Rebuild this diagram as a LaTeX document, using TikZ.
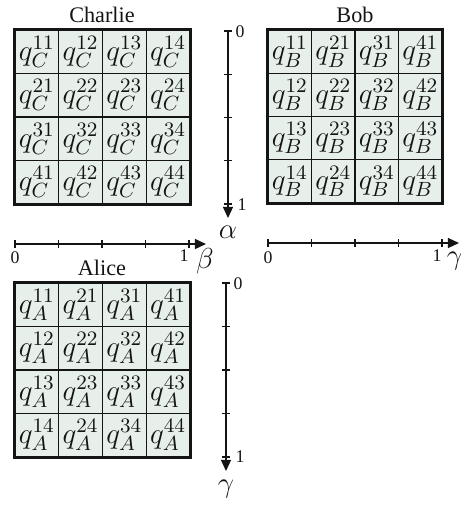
\documentclass[tikz,border=0pt]{standalone}
\usepackage{fix-cm}
\usepackage[no-math]{fontspec}
\setmainfont{Liberation Serif}
\usetikzlibrary{arrows.meta}
\definecolor{cellfill}{RGB}{230,239,234}
\definecolor{ink}{RGB}{20,20,20}
\tikzset{
  cell/.style={draw=ink, line width=0.5pt, fill=cellfill, minimum width=19.6pt, minimum height=19.6pt, inner sep=0pt, font=\fontsize{13.2}{15}\selectfont, text=ink},
  frame/.style={draw=ink, line width=1.1pt},
  axis/.style={draw=ink, line width=0.7pt, -{Triangle[length=5pt,width=4.5pt]}},
  tick/.style={draw=ink, line width=0.6pt},
  ticklab/.style={font=\footnotesize, inner sep=1pt, text=ink},
  axlab/.style={font=\fontsize{13}{15}\selectfont, inner sep=0pt, text=ink},
  title/.style={font=\normalsize, inner sep=0pt, text=ink}
}
\begin{document}
\begin{tikzpicture}[x=0.45pt, y=-0.45pt]
\useasboundingbox (0,0) rectangle (461,505);
% ---------- Charlie ----------
\node[title] (tC) at (102,15) {Charlie};
\foreach \i in {1,...,4}{
  \foreach \j in {1,...,4}{
    \node[cell] (C\i\j) at ({15+43.75*(\j-0.5)},{30+43.5*(\i-0.5)}) {$q_C^{\i\j}$};
  }
}
\draw[frame] (C11.north west) rectangle (C44.south east);
% ---------- Bob ----------
\node[title] (tB) at (355,15) {Bob};
\foreach \i in {1,...,4}{
  \foreach \j in {1,...,4}{
    \node[cell] (B\i\j) at ({268+43.5*(\j-0.5)},{30+43.25*(\i-0.5)}) {$q_B^{\j\i}$};
  }
}
\draw[frame] (B11.north west) rectangle (B44.south east);
% ---------- Alice ----------
\node[title] (tA) at (102,268) {Alice};
\foreach \i in {1,...,4}{
  \foreach \j in {1,...,4}{
    \node[cell] (A\i\j) at ({15+43.75*(\j-0.5)},{283+43.5*(\i-0.5)}) {$q_A^{\j\i}$};
  }
}
\draw[frame] (A11.north west) rectangle (A44.south east);
% ---------- alpha axis (vertical) ----------
\coordinate (a0) at (228,31);
\coordinate (aE) at (228,218);
\draw[axis] (a0) -- (aE);
\foreach \k in {0,...,4}{
  \draw[tick] (224,{31+43.25*\k}) -- (232,{31+43.25*\k});
}
\node[ticklab, anchor=west] (a0l) at (233,32) {0};
\node[ticklab, anchor=west] (a1l) at (235,205) {1};
\node[axlab] (alpha) at (228,232) {$\alpha$};
% ---------- beta axis (horizontal) ----------
\coordinate (b0) at (15,244);
\coordinate (bE) at (206,244);
\draw[axis] (b0) -- (bE);
\foreach \k in {0,...,4}{
  \draw[tick] ({15+43.5*\k},240) -- ({15+43.5*\k},248);
}
\node[ticklab] (b0l) at (15,258) {0};
\node[ticklab] (b1l) at (184,256) {1};
\node[axlab] (beta) at (205,261) {$\beta$};
% ---------- gamma axis (horizontal) ----------
\coordinate (g0) at (268,243);
\coordinate (gE) at (459,243);
\draw[axis] (g0) -- (gE);
\foreach \k in {0,...,4}{
  \draw[tick] ({268+43.5*\k},239) -- ({268+43.5*\k},247);
}
\node[ticklab] (g0l) at (268,258) {0};
\node[ticklab] (g1l) at (437,256) {1};
\node[axlab] (gammaH) at (455,261) {$\gamma$};
% ---------- gamma axis (vertical) ----------
\coordinate (h0) at (226,283);
\coordinate (hE) at (226,471);
\draw[axis] (h0) -- (hE);
\foreach \k in {0,...,4}{
  \draw[tick] (222,{283+43.5*\k}) -- (230,{283+43.5*\k});
}
\node[ticklab, anchor=west] (h0l) at (231,284) {0};
\node[ticklab, anchor=west] (h1l) at (233,457) {1};
\node[axlab] (gammaV) at (226,489) {$\gamma$};
\end{tikzpicture}
\end{document}
